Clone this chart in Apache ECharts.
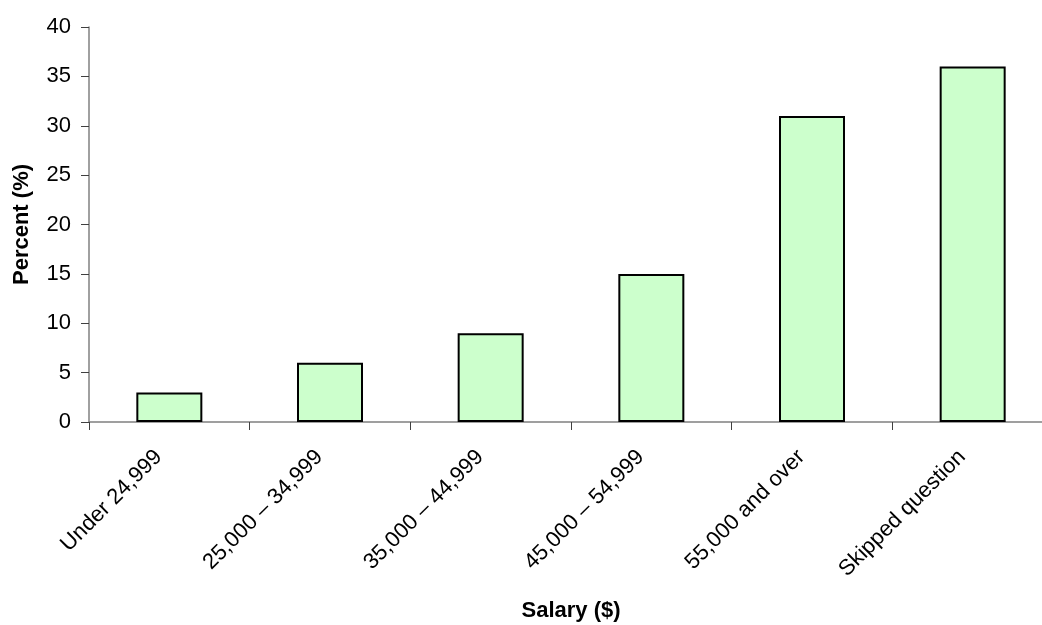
<!DOCTYPE html>
<html>
<head>
<meta charset="utf-8">
<script src="https://cdn.jsdelivr.net/npm/echarts@6/dist/echarts.min.js"></script>
<style>
  html, body { margin: 0; padding: 0; background: #ffffff; }
  #chart { width: 1042px; height: 625px; }
</style>
</head>
<body>
<div id="chart"></div>
<script>
// Salary bands and share of respondents in each (percent)
const categories = ['Under 24,999', '25,000 \u2013 34,999', '35,000 \u2013 44,999', '45,000 \u2013 54,999', '55,000 and over', 'Skipped question'];
const percentValues = [3, 6, 9, 15, 31, 36];
const yTicks = { min: 0, max: 40, interval: 5 };

const FONT = '"Liberation Sans", Arial, sans-serif';
const chart = echarts.init(document.getElementById('chart'), null, { renderer: 'canvas' });

chart.setOption({
  backgroundColor: '#ffffff',
  animation: false,
  grid: { left: 89, top: 27, width: 964, height: 395, containLabel: false, outerBoundsMode: 'none' },
  xAxis: {
    type: 'category',
    data: categories,
    name: 'Salary ($)',
    nameLocation: 'middle',
    nameGap: 178,
    nameTextStyle: { fontFamily: FONT, fontSize: 22, fontWeight: 'bold', color: '#000' },
    axisLine: { lineStyle: { color: '#808080', width: 1.5 } },
    axisTick: { show: true, alignWithLabel: false, length: 8, lineStyle: { color: '#404040', width: 1 } },
    axisLabel: { rotate: 45, margin: 21, padding: [0, 15, 0, 0], fontFamily: FONT, fontSize: 22, color: '#000', interval: 0 },
    splitLine: { show: false }
  },
  yAxis: {
    type: 'value',
    min: yTicks.min,
    max: yTicks.max,
    interval: yTicks.interval,
    name: 'Percent (%)',
    nameLocation: 'middle',
    nameGap: 56,
    nameTextStyle: { fontFamily: FONT, fontSize: 22, fontWeight: 'bold', color: '#000' },
    axisLine: { show: true, lineStyle: { color: '#808080', width: 1.5 } },
    axisTick: { show: true, length: 8, lineStyle: { color: '#404040', width: 1 } },
    axisLabel: { margin: 18, fontFamily: FONT, fontSize: 22, color: '#000' },
    splitLine: { show: false }
  },
  series: [{
    type: 'bar',
    data: percentValues,
    barWidth: 66,
    itemStyle: { color: '#CCFFCC', borderColor: '#000000', borderWidth: 2 }
  }]
});
</script>
</body>
</html>
